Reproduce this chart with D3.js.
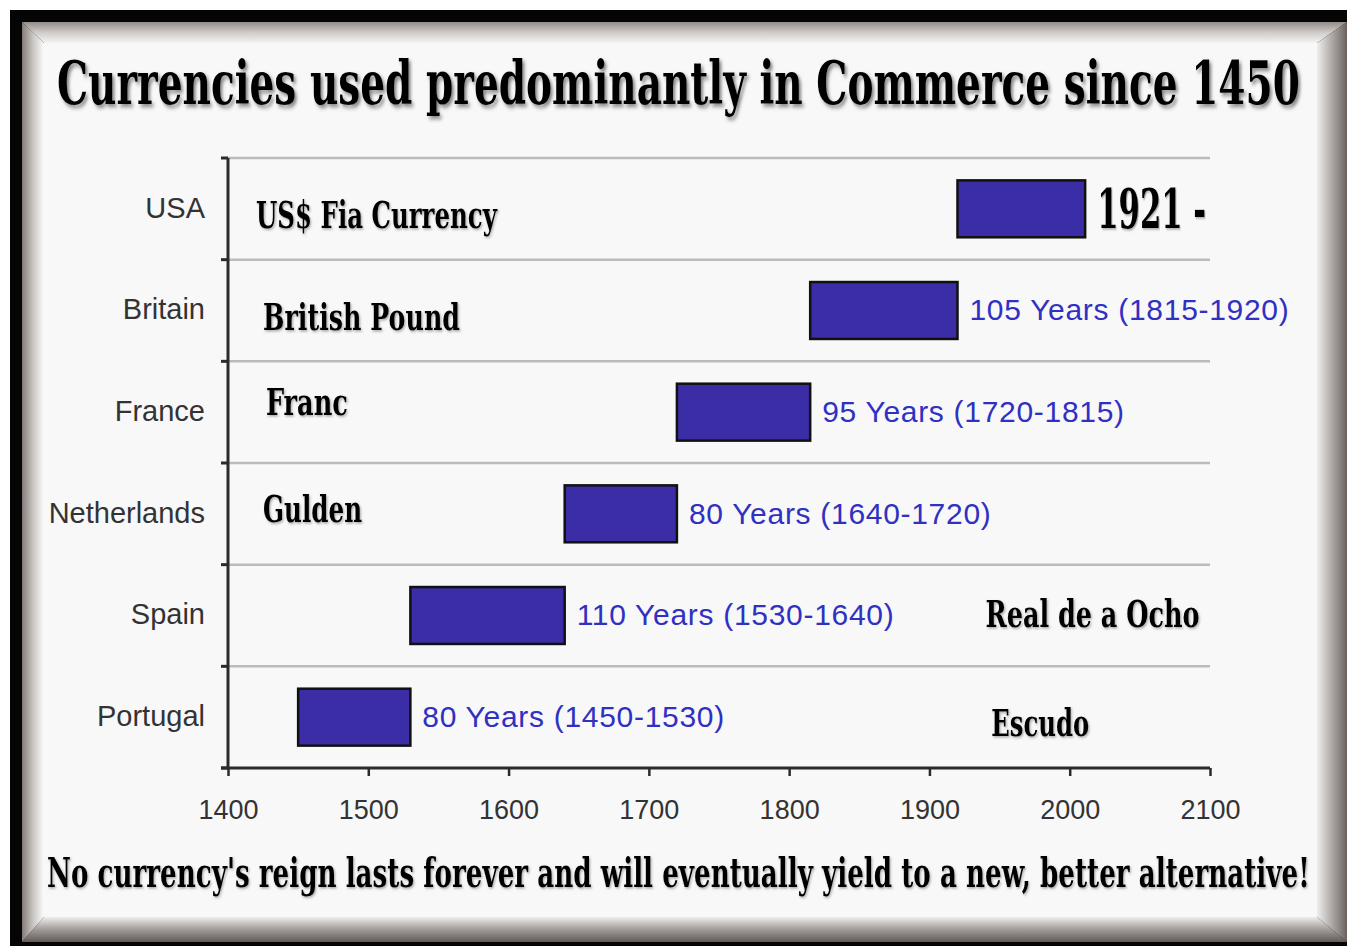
<!DOCTYPE html>
<head>
  <meta http-equiv="Content-Type" content="text/html; charset=utf-8">
  <style>
    body { margin: 0; background: #fff; }
    .serif { font-family: "DejaVu Serif", serif; font-weight: bold; font-stretch: condensed; fill: #000; }
  </style>
</head>
<body></body>
<script src="https://d3js.org/d3.v7.min.js"></script>
<script>

var width = 1347,
    height = 946;

// Data
var countries  = ["USA", "Britain", "France", "Netherlands", "Spain", "Portugal"];
var currencies = ["US$ Fia Currency", "British Pound", "Franc", "Gulden", "Real de a Ocho", "Escudo"];
var startYear  = [1920, 1815, 1720, 1640, 1530, 1450];
var endYear    = [2011, 1920, 1815, 1720, 1640, 1530];
var spanLabels = ["1921 -", "105 Years (1815-1920)", "95 Years (1720-1815)",
                  "80 Years (1640-1720)", "110 Years (1530-1640)", "80 Years (1450-1530)"];
var xTicks     = [1400, 1500, 1600, 1700, 1800, 1900, 2000, 2100];

var title    = "Currencies used predominantly in Commerce since 1450";
var footnote = "No currency's reign lasts forever and will eventually yield to a new, better alternative!";

var rows = countries.map(function(c, i){
  return {country: c, currency: currencies[i], start: startYear[i], end: endYear[i], label: spanLabels[i]};
});

var svg = d3.select("body").append("svg")
    .attr("width", width)
    .attr("height", height);

var defs = svg.append("defs");

function grad(id, x1, y1, x2, y2, stops){
  var g = defs.append("linearGradient").attr("id", id)
      .attr("x1", x1).attr("y1", y1).attr("x2", x2).attr("y2", y2);
  stops.forEach(function(s){
    g.append("stop").attr("offset", s[0]).attr("stop-color", s[1]);
  });
}
grad("gTop",    0, 0, 0, 1, [[0, "#938c88"], [0.5, "#cfcbc9"], [1, "#f4f4f4"]]);
grad("gLeft",   0, 0, 1, 0, [[0, "#837b77"], [0.5, "#c9c5c3"], [1, "#fbfbfb"]]);
grad("gRight",  0, 0, 1, 0, [[0, "#eeeeee"], [0.5, "#aea8a5"], [1, "#6b625e"]]);
grad("gBottom", 0, 0, 0, 1, [[0, "#eeeeee"], [0.5, "#a29b97"], [1, "#635a56"]]);

function dropShadow(id, d, blur, op){
  var f = defs.append("filter").attr("id", id)
      .attr("x", "-10%").attr("y", "-50%").attr("width", "120%").attr("height", "200%");
  f.append("feDropShadow").attr("dx", d).attr("dy", d)
      .attr("stdDeviation", blur).attr("flood-color", "#555").attr("flood-opacity", op);
}
dropShadow("shadow", 3, 2, 0.7);
dropShadow("shadowSmall", 1.5, 1.2, 0.5);

// squeeze a serif text horizontally so it spans w pixels from x
function squeeze(sel, x0, y0, w){
  var natural = sel.node().getComputedTextLength();
  sel.attr("transform", "translate(" + x0 + "," + y0 + ") scale(" + (w / natural) + ",1)");
}

// Frame
svg.append("rect").attr("x", 10).attr("y", 10).attr("width", width).attr("height", height)
    .attr("fill", "#050505");
var fo = {l: 22, t: 22, r: 1347, b: 942},
    fi = {l: 44, t: 43, r: 1317, b: 917};
var bevel = [
  {fill: "url(#gTop)",    pts: [[fo.l, fo.t], [fo.r, fo.t], [fi.r, fi.t], [fi.l, fi.t]]},
  {fill: "url(#gLeft)",   pts: [[fo.l, fo.t], [fi.l, fi.t], [fi.l, fi.b], [fo.l, fo.b]]},
  {fill: "url(#gRight)",  pts: [[fi.r, fi.t], [fo.r, fo.t], [fo.r, fo.b], [fi.r, fi.b]]},
  {fill: "url(#gBottom)", pts: [[fi.l, fi.b], [fi.r, fi.b], [fo.r, fo.b], [fo.l, fo.b]]}
];
svg.selectAll(".bevel").data(bevel).enter().append("polygon")
    .attr("class", "bevel")
    .attr("points", function(d){ return d.pts.map(function(p){ return p.join(","); }).join(" "); })
    .attr("fill", function(d){ return d.fill; });
svg.append("rect").attr("x", fi.l).attr("y", fi.t)
    .attr("width", fi.r - fi.l).attr("height", fi.b - fi.t)
    .attr("fill", "#f8f8f8");

// Title + footnote
svg.append("text").attr("class", "serif")
    .attr("font-size", 60)
    .attr("filter", "url(#shadow)")
    .text(title)
    .call(squeeze, 57, 104, 1243);
svg.append("text").attr("class", "serif")
    .attr("font-size", 41)
    .attr("filter", "url(#shadowSmall)")
    .text(footnote)
    .call(squeeze, 47, 887, 1263);

// Scales
var x = d3.scaleLinear()
    .domain([1400, 2100])
    .range([228, 1210]);
var y = d3.scaleBand()
    .domain(countries)
    .range([158, 768])
    .paddingInner(0.44)
    .paddingOuter(0.22);

var step = y.step(),
    gap = (step - y.bandwidth()) / 2;
var bounds = countries.map(function(c){ return y(c) - gap; }).concat([y.range()[1]]);

// gridlines
svg.selectAll(".grid").data(bounds.slice(0, -1)).enter().append("line")
    .attr("class", "grid")
    .attr("x1", x(1400)).attr("x2", x(2100))
    .attr("y1", function(d){ return d; }).attr("y2", function(d){ return d; })
    .attr("stroke", "#bdbbb9").attr("stroke-width", 2.5);

// left axis line + ticks
svg.append("line")
    .attr("x1", x(1400)).attr("x2", x(1400))
    .attr("y1", bounds[0]).attr("y2", bounds[bounds.length - 1])
    .attr("stroke", "#2b2b2b").attr("stroke-width", 3);
svg.selectAll(".ltick").data(bounds).enter().append("line")
    .attr("class", "ltick")
    .attr("x1", x(1400) - 7).attr("x2", x(1400))
    .attr("y1", function(d){ return d; }).attr("y2", function(d){ return d; })
    .attr("stroke", "#2b2b2b").attr("stroke-width", 3);

// category labels
var yAxis = svg.append("g")
    .attr("transform", "translate(" + x(1400) + ",0)")
    .call(d3.axisLeft(y).tickSize(0).tickPadding(23));
yAxis.select(".domain").remove();
yAxis.selectAll("text")
    .attr("font-family", "'Liberation Sans', Arial, sans-serif")
    .attr("font-size", 29)
    .attr("dy", "0.3em")
    .attr("fill", "#333");

// bottom axis
var xAxis = svg.append("g")
    .attr("transform", "translate(0," + y.range()[1] + ")")
    .call(d3.axisBottom(x).tickValues(xTicks).tickFormat(d3.format("d")).tickSize(8).tickSizeOuter(0).tickPadding(24));
xAxis.select(".domain")
    .attr("d", "M" + (x(1400) - 7) + ",0H" + x(2100))
    .attr("stroke", "#2b2b2b").attr("stroke-width", 3);
xAxis.selectAll(".tick line").attr("stroke", "#2b2b2b").attr("stroke-width", 2.5);
xAxis.selectAll("text")
    .attr("font-family", "'Liberation Sans', Arial, sans-serif")
    .attr("font-size", 27)
    .attr("fill", "#333");

// bars
svg.selectAll(".bar").data(rows).enter().append("rect")
    .attr("class", "bar")
    .attr("x", function(d){ return x(d.start); })
    .attr("y", function(d){ return y(d.country); })
    .attr("width", function(d){ return x(d.end) - x(d.start); })
    .attr("height", y.bandwidth())
    .attr("fill", "#3a2da6")
    .attr("stroke", "#111")
    .attr("stroke-width", 2.5);

// span labels (blue), first row gets the big serif "1921 -"
svg.selectAll(".span").data(rows.slice(1)).enter().append("text")
    .attr("class", "span")
    .attr("x", function(d){ return x(d.end) + 12; })
    .attr("y", function(d){ return y(d.country) + y.bandwidth() / 2; })
    .attr("dy", "0.33em")
    .attr("font-family", "'Liberation Sans', Arial, sans-serif")
    .attr("font-size", 30)
    .attr("letter-spacing", 0.7)
    .attr("fill", "#3030c2")
    .text(function(d){ return d.label; });

svg.append("text").attr("class", "serif")
    .attr("font-size", 54)
    .attr("filter", "url(#shadowSmall)")
    .text(rows[0].label)
    .call(squeeze, x(rows[0].end) + 12, y(rows[0].country) + y.bandwidth() / 2 + 19, 109);

// currency names: [year at left edge, baseline offset from row centre, text width]
var nameLayout = [[1420, 19, 241], [1425, 19, 197], [1427, 3, 82],
                  [1425, 8, 99], [1940, 11, 214], [1944, 19, 98]];
svg.selectAll(".cur").data(rows).enter().append("text")
    .attr("class", "serif cur")
    .attr("font-size", 38)
    .attr("filter", "url(#shadowSmall)")
    .text(function(d){ return d.currency; })
    .each(function(d, i){
      d3.select(this).call(squeeze, x(nameLayout[i][0]),
        y(d.country) + y.bandwidth() / 2 + nameLayout[i][1], nameLayout[i][2]);
    });

</script>
</html>
